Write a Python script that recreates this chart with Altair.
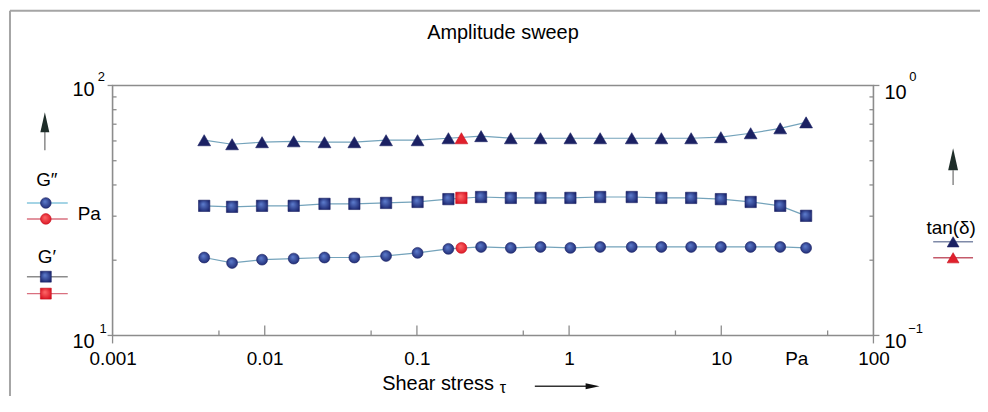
import altair as alt
import pandas as pd

FONT = "Liberation Sans"

# ---------------- data ----------------
stress = [0.004, 0.0061, 0.0096, 0.0155, 0.0247, 0.0388, 0.0627, 0.101, 0.161,
          0.264, 0.414, 0.649, 1.02, 1.6, 2.58, 4.04, 6.34, 9.94, 15.6, 24.4, 36.1]
g_loss = [20.5, 19.5, 20.1, 20.3, 20.5, 20.5, 20.8, 21.4, 22.2,
          22.6, 22.4, 22.6, 22.4, 22.6, 22.6, 22.6, 22.6, 22.6, 22.6, 22.6, 22.4]
g_storage = [33.0, 32.7, 33.0, 33.0, 33.6, 33.6, 33.9, 34.2, 35.1,
             35.8, 35.5, 35.5, 35.5, 35.8, 35.8, 35.5, 35.5, 35.1, 34.2, 33.0, 30.1]
tan_delta = [0.604, 0.582, 0.593, 0.598, 0.593, 0.593, 0.604, 0.604, 0.615,
             0.627, 0.615, 0.615, 0.615, 0.615, 0.615, 0.615, 0.615, 0.621, 0.644, 0.674, 0.712]
red_stress = [0.196]
red_g_loss = [22.4]
red_g_storage = [35.5]
red_tan = [0.615]

x_label_values = [0.001, 0.01, 0.1, 1, 10, 100]
x_major_inner = [0.01, 0.1, 1, 10]
x_minor = [0.005, 0.05, 0.5, 5, 50]
x_ends = [0.001, 100]
y_left_minor = [20, 30, 40, 50, 60, 70, 80, 90]
y_left_major = [10, 100]
y_right_minor = [0.2, 0.3, 0.4, 0.5, 0.6, 0.7, 0.8, 0.9]
y_right_major = [0.1, 1]

W, H = 764, 251

df = pd.DataFrame({"stress": stress, "gl": g_loss, "gs": g_storage, "tan": tan_delta})
red = pd.DataFrame({"stress": red_stress, "gl": red_g_loss, "gs": red_g_storage, "tan": red_tan})
dummy = pd.DataFrame({"a": [0]})

xscale = alt.Scale(type="log", domain=[0.001, 100])
xaxis = alt.Axis(values=x_label_values, labelExpr="format(datum.value, '~g')",
                 ticks=False, domain=False, grid=False, labelFontSize=19,
                 labelFont=FONT, labelColor="black", labelPadding=14,
                 title=None, labelFlush=False, labelOverlap=False)
yl_scale = alt.Scale(type="log", domain=[10, 100])
yr_scale = alt.Scale(type="log", domain=[0.1, 1])


def X(f):
    return alt.X(f"{f}:Q", scale=xscale, axis=xaxis)


def YL(f):
    return alt.Y(f"{f}:Q", scale=yl_scale, axis=None)


def YR(f):
    return alt.Y(f"{f}:Q", scale=yr_scale, axis=None)


BLUE = alt.RadialGradient(gradient="radial",
                          stops=[alt.GradientStop(offset=0, color="#5f7fd0"),
                                 alt.GradientStop(offset=1, color="#19236c")],
                          x1=0.4, y1=0.35, r1=0, x2=0.5, y2=0.5, r2=0.6)
REDG = alt.RadialGradient(gradient="radial",
                          stops=[alt.GradientStop(offset=0, color="#ff6a6a"),
                                 alt.GradientStop(offset=1, color="#d8101f")],
                          x1=0.4, y1=0.35, r1=0, x2=0.5, y2=0.5, r2=0.6)
NAVY = "#1b2163"
LINE = dict(color="#74a3bb", strokeWidth=1.2)
TICK = "#8c8c8c"


def pts(data, field, yf, shape, size, fill, stroke):
    return alt.Chart(data).mark_point(shape=shape, filled=True, size=size, fill=fill,
                                      stroke=stroke, strokeWidth=0.6, opacity=1,
                                      fillOpacity=1).encode(x=X("stress"), y=yf(field))


def txt(s, x, y, size=19, align="center", color="black"):
    return alt.Chart(dummy).mark_text(text=s, fontSize=size, font=FONT, align=align,
                                      baseline="middle", color=color).encode(
        x=alt.value(x), y=alt.value(y))


def prule(x1, x2, y1, y2, color=TICK, w=1.3):
    return alt.Chart(dummy).mark_rule(color=color, strokeWidth=w).encode(
        x=alt.value(x1), x2=alt.value(x2), y=alt.value(y1), y2=alt.value(y2))


def psym(x, y, shape, size, fill, stroke=None):
    kw = dict(shape=shape, filled=True, size=size, fill=fill, opacity=1, fillOpacity=1)
    if stroke:
        kw.update(stroke=stroke, strokeWidth=0.6)
    else:
        kw.update(strokeWidth=0)
    return alt.Chart(dummy).mark_point(**kw).encode(x=alt.value(x), y=alt.value(y))


def xticks(vals, y1, y2):
    d = pd.DataFrame({"t": vals})
    return alt.Chart(d).mark_rule(color=TICK, strokeWidth=1.3).encode(
        x=X("t"), y=alt.value(y1), y2=alt.value(y2))


def yticks(vals, yf, x1, x2):
    d = pd.DataFrame({"v": vals})
    return alt.Chart(d).mark_rule(color=TICK, strokeWidth=1.3).encode(
        y=yf("v"), x=alt.value(x1), x2=alt.value(x2))


ARROW_UP = "M0,-1L0.45,1L-0.45,1Z"
ARROW_RIGHT = "M1,0L-1,-0.42L-1,0.42Z"

left = alt.layer(
    # outer frame
    prule(-103, -103, -75, 330, "#a5a5a5", 2),
    prule(-103, 880, -75, -75, "#a5a5a5", 2),
    # ticks
    xticks(x_major_inner, H - 10, H),
    xticks(x_minor, H - 5, H),
    xticks(x_ends, H, H + 8),
    yticks(y_left_minor, YL, 0, 4),
    yticks(y_left_major, YL, -5, 0),
    # data
    alt.Chart(df).mark_line(**LINE).encode(x=X("stress"), y=YL("gs")),
    alt.Chart(df).mark_line(**LINE).encode(x=X("stress"), y=YL("gl")),
    pts(df, "gs", YL, "square", 130, BLUE, NAVY),
    pts(df, "gl", YL, "circle", 120, BLUE, NAVY),
    pts(red, "gs", YL, "square", 130, REDG, "#c8101c"),
    pts(red, "gl", YL, "circle", 120, REDG, "#c8101c"),
    # title
    txt("Amplitude sweep", 392, -53, 20),
    # left legend
    prule(-68, -68, 45, 65, "#8a8a8a", 1.5),
    psym(-68, 37, ARROW_UP, 400, "#1f2e2a"),
    txt("G\u2033", -66, 95, 19),
    prule(-86, -45, 118, 118, "#86c6dd", 1.5),
    psym(-67, 118, "circle", 115, BLUE, NAVY),
    prule(-86, -45, 134, 134, "#d9707f", 1.5),
    psym(-67, 134, "circle", 115, REDG, "#c8101c"),
    txt("Pa", -35, 129, 19, align="left"),
    txt("G\u2032", -66, 172, 19),
    prule(-86, -45, 192, 192, "#8c8c8c", 1.5),
    psym(-67, 192, "square", 120, BLUE, NAVY),
    prule(-86, -45, 209, 209, "#d9707f", 1.5),
    psym(-67, 209, "square", 120, REDG, "#c8101c"),
    # y labels
    txt("10", -18, 5, 20, align="right"),
    txt("2", -15, -9, 13, align="left"),
    txt("10", -18, 258, 20, align="right"),
    txt("1", -13, 245, 13, align="left"),
    txt("10", 775, 8, 20, align="left"),
    txt("0", 800, -8, 13, align="left"),
    txt("10", 775, 258, 20, align="left"),
    txt("\u22121", 799, 245, 13, align="left"),
    # x extras
    txt("Pa", 687, 275, 19),
    txt("Shear stress", 383, 300, 20, align="right"),
    txt("\u03c4", 392, 304, 16, align="center"),
    prule(424, 478, 302, 302, "#333333", 1.5),
    psym(482, 302, ARROW_RIGHT, 196, "#111111"),
)

right = alt.layer(
    yticks(y_right_minor, YR, W - 4, W),
    yticks(y_right_major, YR, W, W + 6),
    alt.Chart(df).mark_line(**LINE).encode(x=X("stress"), y=YR("tan")),
    pts(df, "tan", YR, "triangle-up", 165, NAVY, NAVY),
    pts(red, "tan", YR, "triangle-up", 165, "#e0202c", "#c8101c"),
    # right legend
    prule(844, 844, 85, 100, "#8a8a8a", 1.5),
    psym(844, 74, ARROW_UP, 484, "#1f2e2a"),
    txt("tan(\u03b4)", 842, 143, 19),
    prule(824, 864, 157, 157, "#7f8aa8", 1.5),
    psym(844, 157, "triangle-up", 140, NAVY, NAVY),
    prule(824, 864, 173, 173, "#c45a6a", 1.5),
    psym(844, 173, "triangle-up", 140, "#e0202c", "#c8101c"),
)

chart = alt.layer(left, right).resolve_scale(y="independent").properties(
    width=W, height=H,
    padding={"left": 105, "top": 77, "right": 107, "bottom": 60},
    autosize=alt.AutoSizeParams(type="none"),
    background="white",
).configure_view(stroke="#8c8c8c", strokeWidth=1.6)

chart.save("out.html", embed_options={"renderer": "svg", "actions": False})
